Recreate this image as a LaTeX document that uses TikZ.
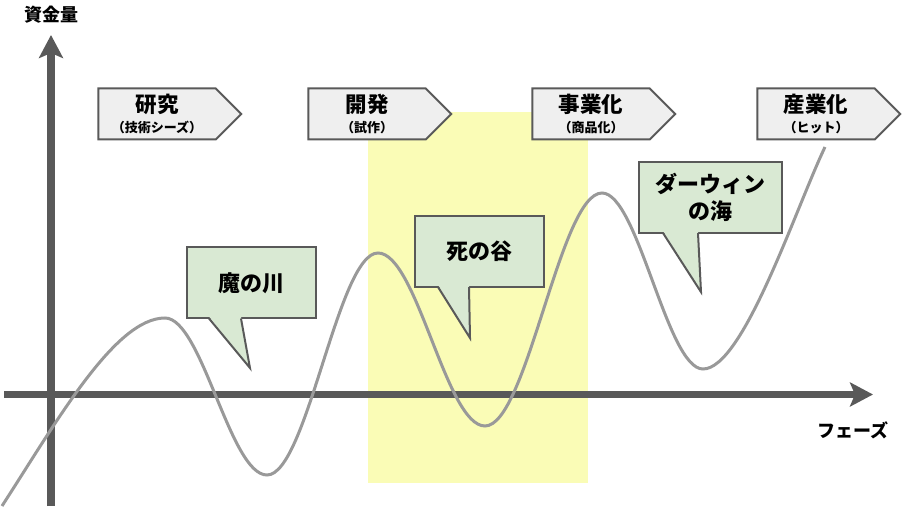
\documentclass[tikz,border=0pt]{standalone}
\usepackage{fontspec}
\setmainfont{Noto Sans CJK JP}
\usepackage{tikz}
\usetikzlibrary{shapes.symbols,arrows.meta}
\definecolor{darkline}{RGB}{89,89,89}
\definecolor{phasegray}{RGB}{239,239,239}
\definecolor{valley}{RGB}{250,252,182}
\definecolor{bubblegreen}{RGB}{217,233,211}
\definecolor{curvegray}{RGB}{153,153,153}
\tikzstyle{phase} = [signal, signal to=east, signal pointer angle=90, minimum width=143pt, minimum height=51pt, draw=darkline, line width=2pt, fill=phasegray, align=center, inner sep=0pt, outer sep=0pt, font=\bfseries]
\tikzstyle{bubble} = [rectangle, minimum height=71pt, draw=darkline, line width=2pt, fill=bubblegreen, align=center, inner sep=0pt, outer sep=0pt, font=\fontsize{22}{27}\selectfont\bfseries]
\tikzstyle{pointer} = [draw=darkline, line width=2pt, line join=miter]
\tikzstyle{axis} = [line width=7.5pt, draw=darkline, -{Stealth[length=23pt,width=24pt,inset=5pt]}]
\tikzstyle{curve} = [line width=3pt, draw=curvegray]
\tikzstyle{axislabel} = [font=\fontsize{18}{20}\selectfont\bfseries]
\newcommand{\phasetext}[2]{{\fontsize{21.5}{22}\selectfont #1}\\[6pt]{\fontsize{13}{14}\selectfont #2}}

\begin{document}
\begin{tikzpicture}[x=1pt,y=1pt]
\useasboundingbox (0,0) rectangle (902,506);
% valley of death band
\fill[valley] (368,23) rectangle (588,394);

% axes
\coordinate (ybot) at (51,0);
\coordinate (ytop) at (51,471);
\coordinate (xleft) at (4,111.5);
\coordinate (xright) at (873,111.5);
\draw[axis] (ybot) -- (ytop);
\draw[axis] (xleft) -- (xright);
\node (fund) [axislabel] at (51,491) {資金量};
\node (phaseaxis) [axislabel] at (853,76) {フェーズ};

% funding curve
\draw[curve] (2,0) .. controls +(55,85) and +(-50,0) .. (165,188)
  .. controls +(37,0) and +(-37,0) .. (267,31)
  .. controls +(40,0) and +(-40,0) .. (378,253)
  .. controls +(39,0) and +(-39,0) .. (485,80)
  .. controls +(42,0) and +(-42,0) .. (602,313)
  .. controls +(36,0) and +(-36,0) .. (703,137)
  .. controls +(40,0) and +(-30,-63) .. (825,359);

% phases
\node (kenkyu) [phase] at (157,392) {\phasetext{研究}{（技術シーズ）}};
\node (kaihatsu) [phase] at (367,392) {\phasetext{開発}{（試作）}};
\node (jigyou) [phase] at (591,392) {\phasetext{事業化}{（商品化）}};
\node (sangyou) [phase] at (816,392) {\phasetext{産業化}{（ヒット）}};

% callouts
\node (kawa) [bubble, minimum width=129pt] at (251.5,223) {魔の川};
\coordinate (kawatip) at (250,138);
\fill[bubblegreen] ([xshift=22pt,yshift=2pt]kawa.south west) -- (kawatip) -- ([xshift=54pt,yshift=2pt]kawa.south west) -- cycle;
\draw[pointer] ([xshift=22pt]kawa.south west) -- (kawatip) -- ([xshift=54pt]kawa.south west);

\node (tani) [bubble, minimum width=129pt] at (479.5,254.5) {死の谷};
\coordinate (tanitip) at (470,168);
\fill[bubblegreen] ([xshift=23pt,yshift=2pt]tani.south west) -- (tanitip) -- ([xshift=54pt,yshift=2pt]tani.south west) -- cycle;
\draw[pointer] ([xshift=23pt]tani.south west) -- (tanitip) -- ([xshift=54pt]tani.south west);

\node (umi) [bubble, minimum width=143pt] at (710.5,308.5) {ダーウィン\\の海};
\coordinate (umitip) at (701,214);
\fill[bubblegreen] ([xshift=24pt,yshift=2pt]umi.south west) -- (umitip) -- ([xshift=59pt,yshift=2pt]umi.south west) -- cycle;
\draw[pointer] ([xshift=24pt]umi.south west) -- (umitip) -- ([xshift=59pt]umi.south west);
\end{tikzpicture}
\end{document}
